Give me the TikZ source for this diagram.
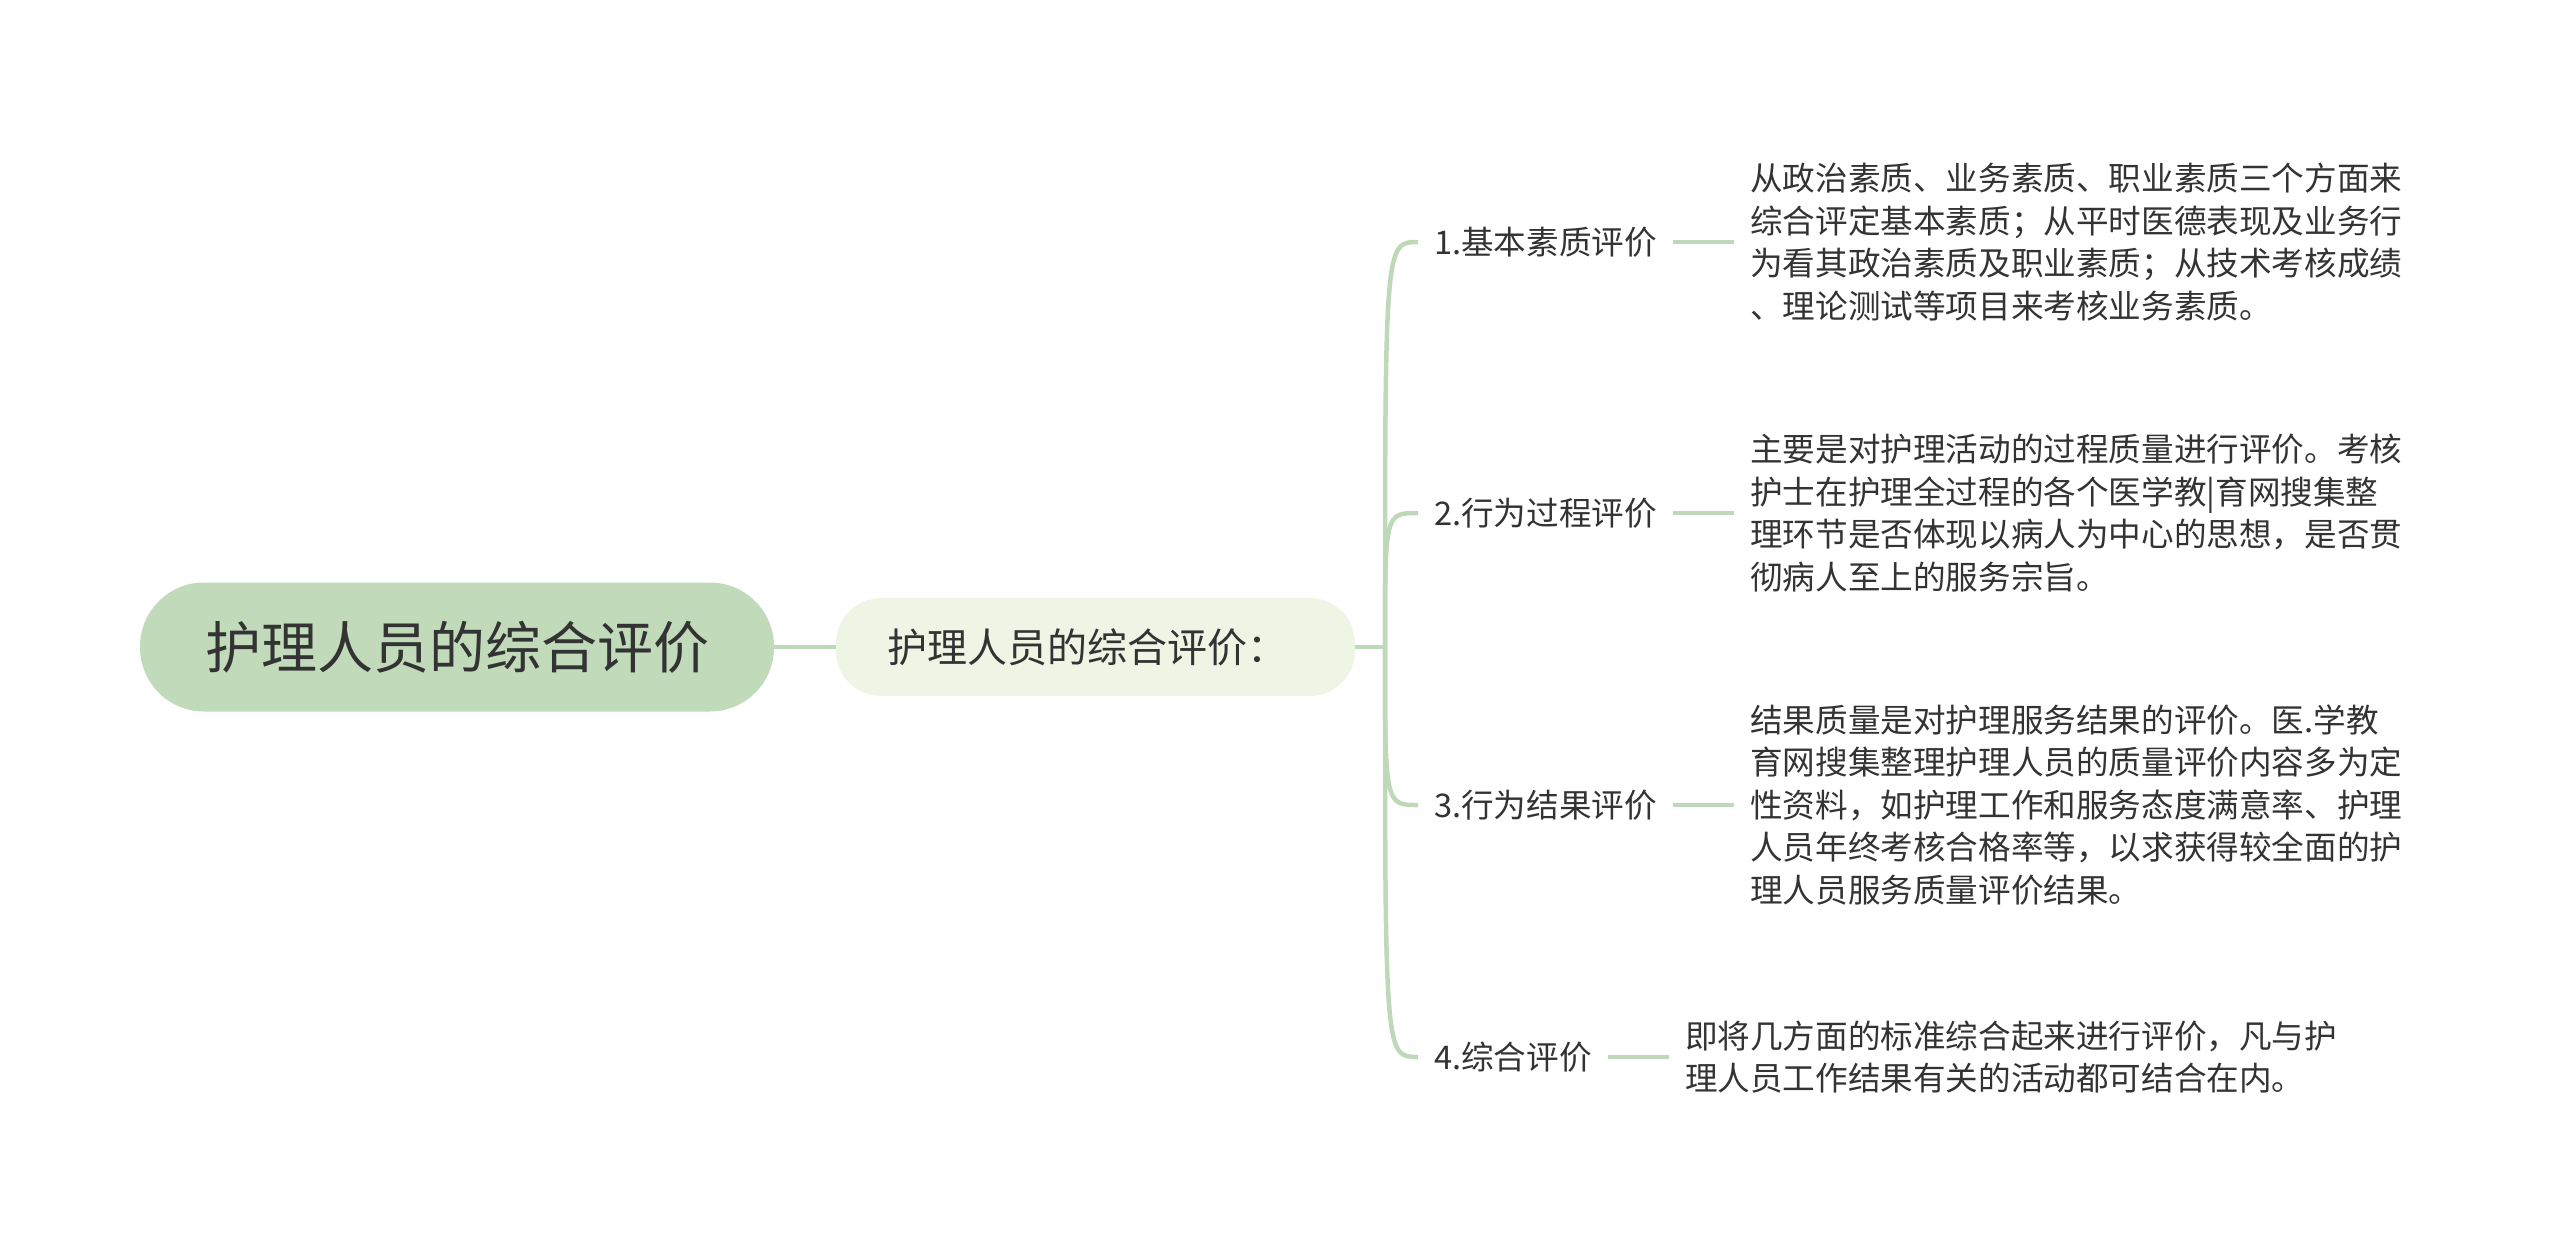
\documentclass[tikz,border=0pt]{standalone}
\usepackage{fontspec}
\setmainfont{Noto Sans CJK SC}
\usepackage{tikz}
\definecolor{mygreen}{RGB}{193,219,186}
\definecolor{mylight}{RGB}{239,245,228}
\definecolor{myline}{RGB}{190,217,183}
\definecolor{mytext}{RGB}{51,51,51}
\usetikzlibrary{positioning}

\begin{document}
\begin{tikzpicture}[x=1pt,y=-1pt,
    every node/.style={text=mytext},
    rootnode/.style={fill=mygreen,rounded corners=64pt,minimum width=634pt,minimum height=129pt,font=\fontsize{56}{66}\selectfont},
    subnode/.style={fill=mylight,rounded corners=45pt,inner xsep=51pt,text width=417pt,align=left,minimum height=98pt,font=\fontsize{40}{48}\selectfont},
    brnode/.style={inner xsep=16pt,font=\fontsize{32.6}{42.5}\selectfont},
    leafnode/.style={inner xsep=16pt,align=left,font=\fontsize{32.6}{42.5}\selectfont},
    link/.style={draw=myline,line width=4.5pt},
    node distance=61pt
    ]
    \useasboundingbox (0,0) rectangle (2560,1253);

    % the centre
    \node[rootnode] (r) at (457,647) {护理人员的综合评价};
    \node[subnode] (s) at (1095.5,647) {护理人员的综合评价：};
    \coordinate (sp) at (1385,647);

    % the branches
    \node[brnode,anchor=west] (b1) at (1418,242) {1.基本素质评价};
    \node[brnode,anchor=west] (b2) at (1418,513) {2.行为过程评价};
    \node[brnode,anchor=west] (b3) at (1418,805) {3.行为结果评价};
    \node[brnode,anchor=west] (b4) at (1418,1057) {4.综合评价};

    % the leaves
    \node[leafnode,right=of b1] (l1) {从政治素质、业务素质、职业素质三个方面来\\综合评定基本素质；从平时医德表现及业务行\\为看其政治素质及职业素质；从技术考核成绩\\、理论测试等项目来考核业务素质。};
    \node[leafnode,right=of b2] (l2) {主要是对护理活动的过程质量进行评价。考核\\护士在护理全过程的各个医学教|育网搜集整\\理环节是否体现以病人为中心的思想，是否贯\\彻病人至上的服务宗旨。};
    \node[leafnode,right=of b3] (l3) {结果质量是对护理服务结果的评价。医.学教\\育网搜集整理护理人员的质量评价内容多为定\\性资料，如护理工作和服务态度满意率、护理\\人员年终考核合格率等，以求获得较全面的护\\理人员服务质量评价结果。};
    \node[leafnode,right=of b4] (l4) {即将几方面的标准综合起来进行评价，凡与护\\理人员工作结果有关的活动都可结合在内。};

    % the lines
    \draw[link] (r) -- (s);
    \draw[link] (s.east) -- (sp);
    \foreach \i in {1,...,4} {
    \draw[link] (sp) .. controls (sp |- b\i.west) .. (b\i.west);
    \draw[link] (b\i) -- (l\i);
    }
\end{tikzpicture}
\end{document}
